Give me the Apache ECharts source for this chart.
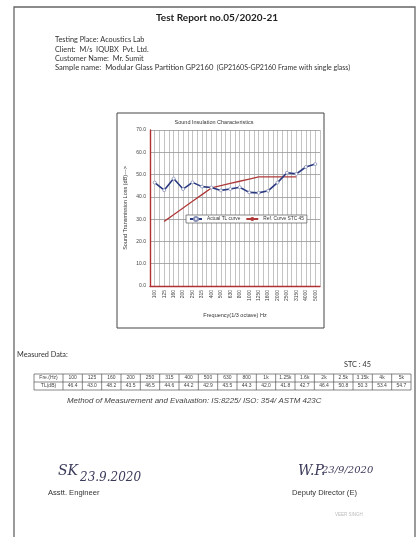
<!DOCTYPE html>
<html>
<head>
<meta charset="utf-8">
<script src="https://cdn.jsdelivr.net/npm/echarts@6/dist/echarts.min.js"></script>
<style>
html,body{margin:0;padding:0;background:#fff;}
#chart{width:418px;height:537px;}
</style>
</head>
<body>
<div id="chart"></div>
<script>
// ---- data ----
var freqAxis = ["100","125","160","200","250","315","400","500","630","800","1000","1250","1600","2000","2500","3150","4000","5000"];
var freqTable = ["100","125","160","200","250","315","400","500","630","800","1k","1.25k","1.6k","2k","2.5k","3.15k","4k","5k"];
var tlValues = [46.4, 43.0, 48.2, 43.5, 46.5, 44.6, 44.2, 42.9, 43.5, 44.3, 42.0, 41.8, 42.7, 46.4, 50.8, 50.3, 53.4, 54.7];
var refValues = [null, 29, 32, 35, 38, 41, 44, 45, 46, 47, 48, 49, 49, 49, 49, 49, null, null];
var yTicks = {min: 0, max: 70, interval: 10};
var stcValue = 45;

var chart = echarts.init(document.getElementById('chart'), null, {renderer: 'canvas'});

var headFont = 'Lato, "Open Sans", sans-serif';
var bodyFont = '"Liberation Sans", Arial, sans-serif';

var graphics = [];
// page border
graphics.push({type:'polyline', shape:{points:[[14,540],[14,7],[415,7],[415,540]]}, style:{stroke:'#666', lineWidth:1.3, fill:null}, z:-2});
// chart box
graphics.push({type:'rect', shape:{x:117, y:113, width:207, height:215}, style:{fill:'#fff', stroke:'#444', lineWidth:1}, z:-1});
// header texts
graphics.push({type:'text', x:217, y:18, style:{text:'Test Report no.05/2020-21', font:'bold 10px ' + headFont, fill:'#222', align:'center', verticalAlign:'middle'}});
var headLines = ['Testing Place: Acoustics Lab', 'Client:  M/s  IQUBX  Pvt. Ltd.', 'Customer Name:  Mr. Sumit'];
headLines.forEach(function(t, i){
  graphics.push({type:'text', x:55, y:40 + i*9.3, style:{text:t, font:'7.3px ' + headFont, fill:'#333', verticalAlign:'middle'}});
});
graphics.push({type:'text', x:55, y:68, style:{rich:{a:{font:'7.6px ' + headFont, fill:'#333'}, b:{font:'7px ' + headFont, fill:'#333'}}, text:'{a|Sample name:  Modular Glass Partition GP2160}{b|  (GP2160S-GP2160 Frame with single glass)}', verticalAlign:'middle'}});
// chart title
graphics.push({type:'text', x:214, y:122, style:{text:'Sound Insulation Characteristics', font:'5.5px ' + bodyFont, fill:'#333', align:'center', verticalAlign:'middle'}});
// measured data
graphics.push({type:'text', x:17, y:355, style:{text:'Measured Data:', font:'7.3px ' + headFont, fill:'#333', verticalAlign:'middle'}});
graphics.push({type:'text', x:344, y:365, style:{text:'STC : ' + stcValue, font:'7.3px ' + headFont, fill:'#333', verticalAlign:'middle'}});
// table
var tx0 = 34, tx1 = 63, tx2 = 411, ty0 = 374, rh = 8;
var cw = (tx2 - tx1) / freqTable.length;
graphics.push({type:'rect', shape:{x:tx0, y:ty0, width:tx2-tx0, height:rh*2}, style:{fill:'#fff', stroke:'#555', lineWidth:0.7}});
graphics.push({type:'line', shape:{x1:tx0, y1:ty0+rh, x2:tx2, y2:ty0+rh}, style:{stroke:'#555', lineWidth:0.7}});
graphics.push({type:'line', shape:{x1:tx1, y1:ty0, x2:tx1, y2:ty0+2*rh}, style:{stroke:'#555', lineWidth:0.7}});
graphics.push({type:'text', x:(tx0+tx1)/2, y:ty0+rh/2, style:{text:'Fre.(Hz)', font:'5px ' + bodyFont, fill:'#444', align:'center', verticalAlign:'middle'}});
graphics.push({type:'text', x:(tx0+tx1)/2, y:ty0+rh*1.5, style:{text:'TL(dB)', font:'5px ' + bodyFont, fill:'#444', align:'center', verticalAlign:'middle'}});
freqTable.forEach(function(f, i){
  var x = tx1 + i*cw;
  if (i > 0) graphics.push({type:'line', shape:{x1:x, y1:ty0, x2:x, y2:ty0+2*rh}, style:{stroke:'#555', lineWidth:0.7}});
  graphics.push({type:'text', x:x+cw/2, y:ty0+rh/2, style:{text:f, font:'5px ' + bodyFont, fill:'#444', align:'center', verticalAlign:'middle'}});
  graphics.push({type:'text', x:x+cw/2, y:ty0+rh*1.5, style:{text:tlValues[i].toFixed(1), font:'5px ' + bodyFont, fill:'#444', align:'center', verticalAlign:'middle'}});
});
graphics.push({type:'text', x:67, y:401, style:{text:'Method of Measurement and Evaluation: IS:8225/ ISO: 354/ ASTM 423C', font:'italic 7.9px ' + bodyFont, fill:'#444', verticalAlign:'middle'}});
// signatures
graphics.push({type:'text', x:58, y:471, style:{text:'SK', font:'italic 14px "DejaVu Serif", serif', fill:'#3a3a5a', verticalAlign:'middle'}});
graphics.push({type:'text', x:80, y:478, style:{text:'23.9.2020', font:'italic 12px "DejaVu Serif", serif', fill:'#3a3a5a', verticalAlign:'middle'}});
graphics.push({type:'text', x:48, y:493, style:{text:'Asstt. Engineer', font:'7.6px ' + bodyFont, fill:'#333', verticalAlign:'middle'}});
graphics.push({type:'text', x:298, y:471, style:{text:'W.P.', font:'italic 14px "DejaVu Serif", serif', fill:'#3a3a5a', verticalAlign:'middle'}});
graphics.push({type:'text', x:322, y:470, style:{text:'23/9/2020', font:'italic 10px "DejaVu Serif", serif', fill:'#3a3a5a', verticalAlign:'middle'}});
graphics.push({type:'text', x:292, y:493, style:{text:'Deputy Director (E)', font:'7.6px ' + bodyFont, fill:'#333', verticalAlign:'middle'}});
graphics.push({type:'text', x:335, y:515, style:{text:'VEER SINGH', font:'4.5px ' + bodyFont, fill:'#bbb', verticalAlign:'middle'}});

var option = {
  animation: false,
  backgroundColor: '#fff',
  textStyle: {fontFamily: bodyFont},
  grid: {left: 150, right: 98, top: 130, bottom: 251, containLabel: false},
  legend: {
    left: 186, top: 215,
    itemWidth: 12, itemHeight: 5, itemGap: 5,
    padding: [1, 3, 1, 3],
    backgroundColor: '#fff', borderColor: '#555', borderWidth: 0.7,
    textStyle: {fontSize: 4.8, color: '#333'},
    data: ['Actual TL curve', 'Ref. Curve STC 45']
  },
  xAxis: [{
    type: 'category', data: freqAxis, boundaryGap: true,
    axisLine: {show: true, lineStyle: {color: '#b03030', width: 1.4}},
    axisTick: {show: false},
    axisLabel: {rotate: 90, fontSize: 5, color: '#444', margin: 4, interval: 0},
    splitLine: {show: false},
    name: 'Frequency(1/3 octave) Hz', nameLocation: 'middle', nameGap: 26,
    nameTextStyle: {fontSize: 5.5, color: '#333'}
  }, {
    type: 'value', min: 0, max: 36, interval: 1, position: 'bottom',
    axisLine: {show: false}, axisTick: {show: false}, axisLabel: {show: false},
    splitLine: {show: true, lineStyle: {color: '#9a9a9a', width: 0.6}}
  }],
  yAxis: {
    type: 'value', min: yTicks.min, max: yTicks.max, interval: yTicks.interval,
    axisLine: {show: true, lineStyle: {color: '#b03030', width: 1.4}},
    axisTick: {show: false},
    axisLabel: {fontSize: 5, color: '#444', margin: 4, formatter: function(v){return v.toFixed(1);}},
    splitLine: {show: true, lineStyle: {color: '#888', width: 0.7}},
    name: 'Sound Transmission Loss (dB)--->', nameLocation: 'middle', nameGap: 22,
    nameTextStyle: {fontSize: 5.5, color: '#333'}
  },
  series: [{
    name: 'Actual TL curve', type: 'line', data: tlValues, xAxisIndex: 0,
    symbol: 'circle', symbolSize: 3, showSymbol: true,
    lineStyle: {color: '#2a3a80', width: 1.6},
    itemStyle: {color: '#fff', borderColor: '#8890b8', borderWidth: 0.8},
    z: 3
  }, {
    name: 'Ref. Curve STC 45', type: 'line', data: refValues, xAxisIndex: 0,
    symbol: 'none', connectNulls: false,
    lineStyle: {color: '#b03a3a', width: 1.3},
    itemStyle: {color: '#b03a3a'},
    z: 2
  }],
  graphic: graphics
};
chart.setOption(option);
</script>
</body>
</html>
